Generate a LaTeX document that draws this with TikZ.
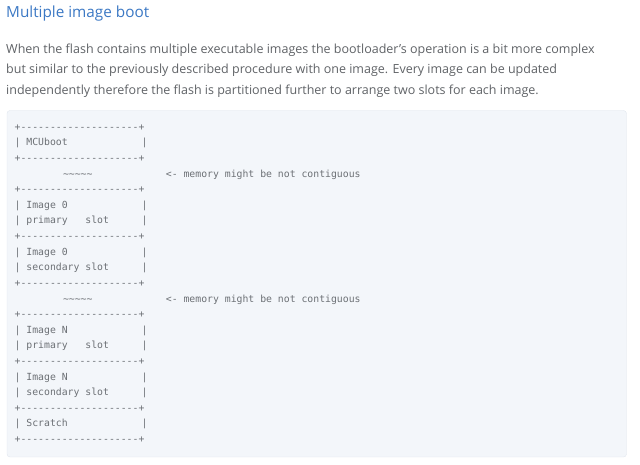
\documentclass[tikz,border=0pt]{standalone}
\usepackage{fontspec}
\setmainfont{Open Sans}
\setmonofont{DejaVu Sans Mono}
\usepackage{xcolor}
\definecolor{title-blue}{HTML}{3B78C4}
\definecolor{body-gray}{HTML}{5F6266}
\definecolor{code-gray}{HTML}{6C7075}
\definecolor{code-bg}{HTML}{F3F6FA}
\definecolor{code-border}{HTML}{E1E6EE}

% one row of the ascii layout: border, slot text, gap note
\newcommand{\borderrow}[2]{\node[code] (#2) at (0,#1) {+--------------------+};}
\newcommand{\slotrow}[3]{\node[code] (#3) at (0,#1) {|\ #2};
  \node[code] (#3-bar) at (21,#1) {|};}
\newcommand{\gaprow}[2]{\node[code] (#2) at (8,#1) {\string~\string~\string~\string~\string~};
  \node[code] (#2-note) at (25,#1) {<- memory might be not contiguous};}

\begin{document}
\begin{tikzpicture}[x=1pt, y=-1pt,
      code/.style={font=\ttfamily\fontsize{9.8}{12}\selectfont, text=code-gray,
                   anchor=base west, inner sep=0pt},
      prose/.style={font=\fontsize{12.5}{15}\selectfont, text=body-gray,
                    anchor=base west, inner sep=0pt}]
    \useasboundingbox (0,0) rectangle (640,465);
    \node[anchor=base west, inner sep=0pt, text=title-blue,
          font=\fontsize{15.3}{18}\selectfont] (title) at (6,17.5) {Multiple image boot};
    \node[prose] (line1) at (6,53.3) {When the flash contains multiple executable images the bootloader’s operation is a bit more complex};
    \node[prose] (line2) at (6,74) {but similar to the previously described procedure with one image. Every image can be updated};
    \node[prose] (line3) at (6,94.3) {independently therefore the flash is partitioned further to arrange two slots for each image.};
    \draw[draw=code-border, fill=code-bg, rounded corners=3pt] (7,110.5) rectangle (626.5,457);
    \begin{scope}[shift={(14.45,130.4)}, x=6.05pt, y=-15.6pt]
      \borderrow{0}{top}
      \slotrow{1}{MCUboot}{mcuboot}
      \borderrow{2}{b1}
      \gaprow{3}{gap1}
      \borderrow{4}{b2}
      \slotrow{5}{Image 0}{img0}
      \slotrow{6}{primary\ \ \ slot}{img0pri}
      \borderrow{7}{b3}
      \slotrow{8}{Image 0}{img0b}
      \slotrow{9}{secondary slot}{img0sec}
      \borderrow{10}{b4}
      \gaprow{11}{gap2}
      \borderrow{12}{b5}
      \slotrow{13}{Image N}{imgN}
      \slotrow{14}{primary\ \ \ slot}{imgNpri}
      \borderrow{15}{b6}
      \slotrow{16}{Image N}{imgNb}
      \slotrow{17}{secondary slot}{imgNsec}
      \borderrow{18}{b7}
      \slotrow{19}{Scratch}{scratch}
      \borderrow{20}{bottom}
    \end{scope}
\end{tikzpicture}
\end{document}
